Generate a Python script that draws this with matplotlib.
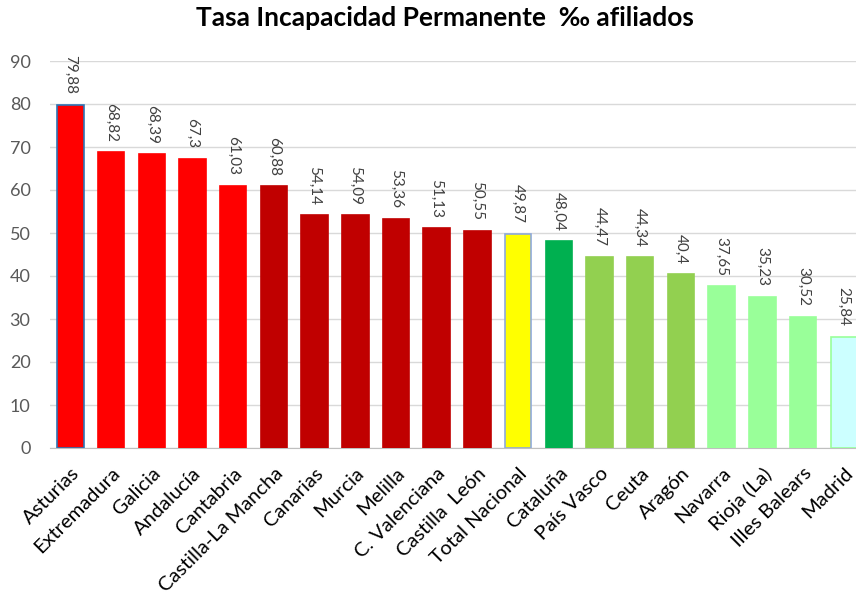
import matplotlib
matplotlib.use("Agg")
import matplotlib.pyplot as plt

# data
regions = ["Asturias", "Extremadura", "Galicia", "Andalucía", "Cantabria",
           "Castilla-La Mancha", "Canarias", "Murcia", "Melilla", "C. Valenciana",
           "Castilla  León", "Total Nacional", "Cataluña", "País Vasco", "Ceuta",
           "Aragón", "Navarra", "Rioja (La)", "Illes Balears", "Madrid"]
values = [79.88, 68.82, 68.39, 67.3, 61.03, 60.88, 54.14, 54.09, 53.36, 51.13,
          50.55, 49.87, 48.04, 44.47, 44.34, 40.4, 37.65, 35.23, 30.52, 25.84]
value_labels = ["79,88", "68,82", "68,39", "67,3", "61,03", "60,88", "54,14", "54,09",
                "53,36", "51,13", "50,55", "49,87", "48,04", "44,47", "44,34", "40,4",
                "37,65", "35,23", "30,52", "25,84"]
colors = ["#FF0000"] * 5 + ["#C00000"] * 6 + ["#FFFF00", "#00B050"] + \
         ["#92D050"] * 3 + ["#99FF99"] * 3 + ["#CCFFFF"]
edges = ["#2E75B6"] + ["#FF0000"] * 4 + ["#C00000"] * 6 + ["#8EA9DB", "#00B050"] + \
        ["#92D050"] * 3 + ["#99FF99"] * 3 + ["#99FF99"]

plt.rcParams["font.family"] = ["Lato", "DejaVu Sans"]

fig = plt.figure(figsize=(8.56, 6), dpi=100)
ax = fig.add_axes([50 / 856, 1 - 448 / 600, 1 - 50 / 856, (448 - 61) / 600])

x = range(len(regions))
ax.bar(x, values, width=0.65, color=colors, edgecolor=edges, linewidth=1.2, zorder=3)

for i, (v, lab) in enumerate(zip(values, value_labels)):
    ax.annotate(lab, (i, v), xytext=(0, 7.5), textcoords="offset points",
                rotation=-90, ha="center", va="bottom", fontsize=11,
                color="#404040", clip_on=False, zorder=4)

ax.set_ylim(0, 90)
ax.set_xlim(-0.5, 19.3)
ax.set_yticks(range(0, 91, 10))
ax.yaxis.grid(True, color="#D9D9D9", linewidth=1)
ax.set_axisbelow(True)
for s in ["top", "right", "left"]:
    ax.spines[s].set_visible(False)
ax.spines["bottom"].set_color("#BFBFBF")
ax.tick_params(axis="y", length=0, labelsize=13, labelcolor="#595959", pad=14)
ax.tick_params(axis="x", length=0, labelsize=14.5, pad=12)
ax.set_xticks(list(x))
ax.set_xticklabels(regions, rotation=45, ha="right", rotation_mode="anchor", color="#000000")

fig.suptitle("Tasa Incapacidad Permanente  ‰ afiliados", x=0.52, y=0.99,
             fontsize=19, fontweight="bold")

fig.savefig("out.png", dpi=100)
